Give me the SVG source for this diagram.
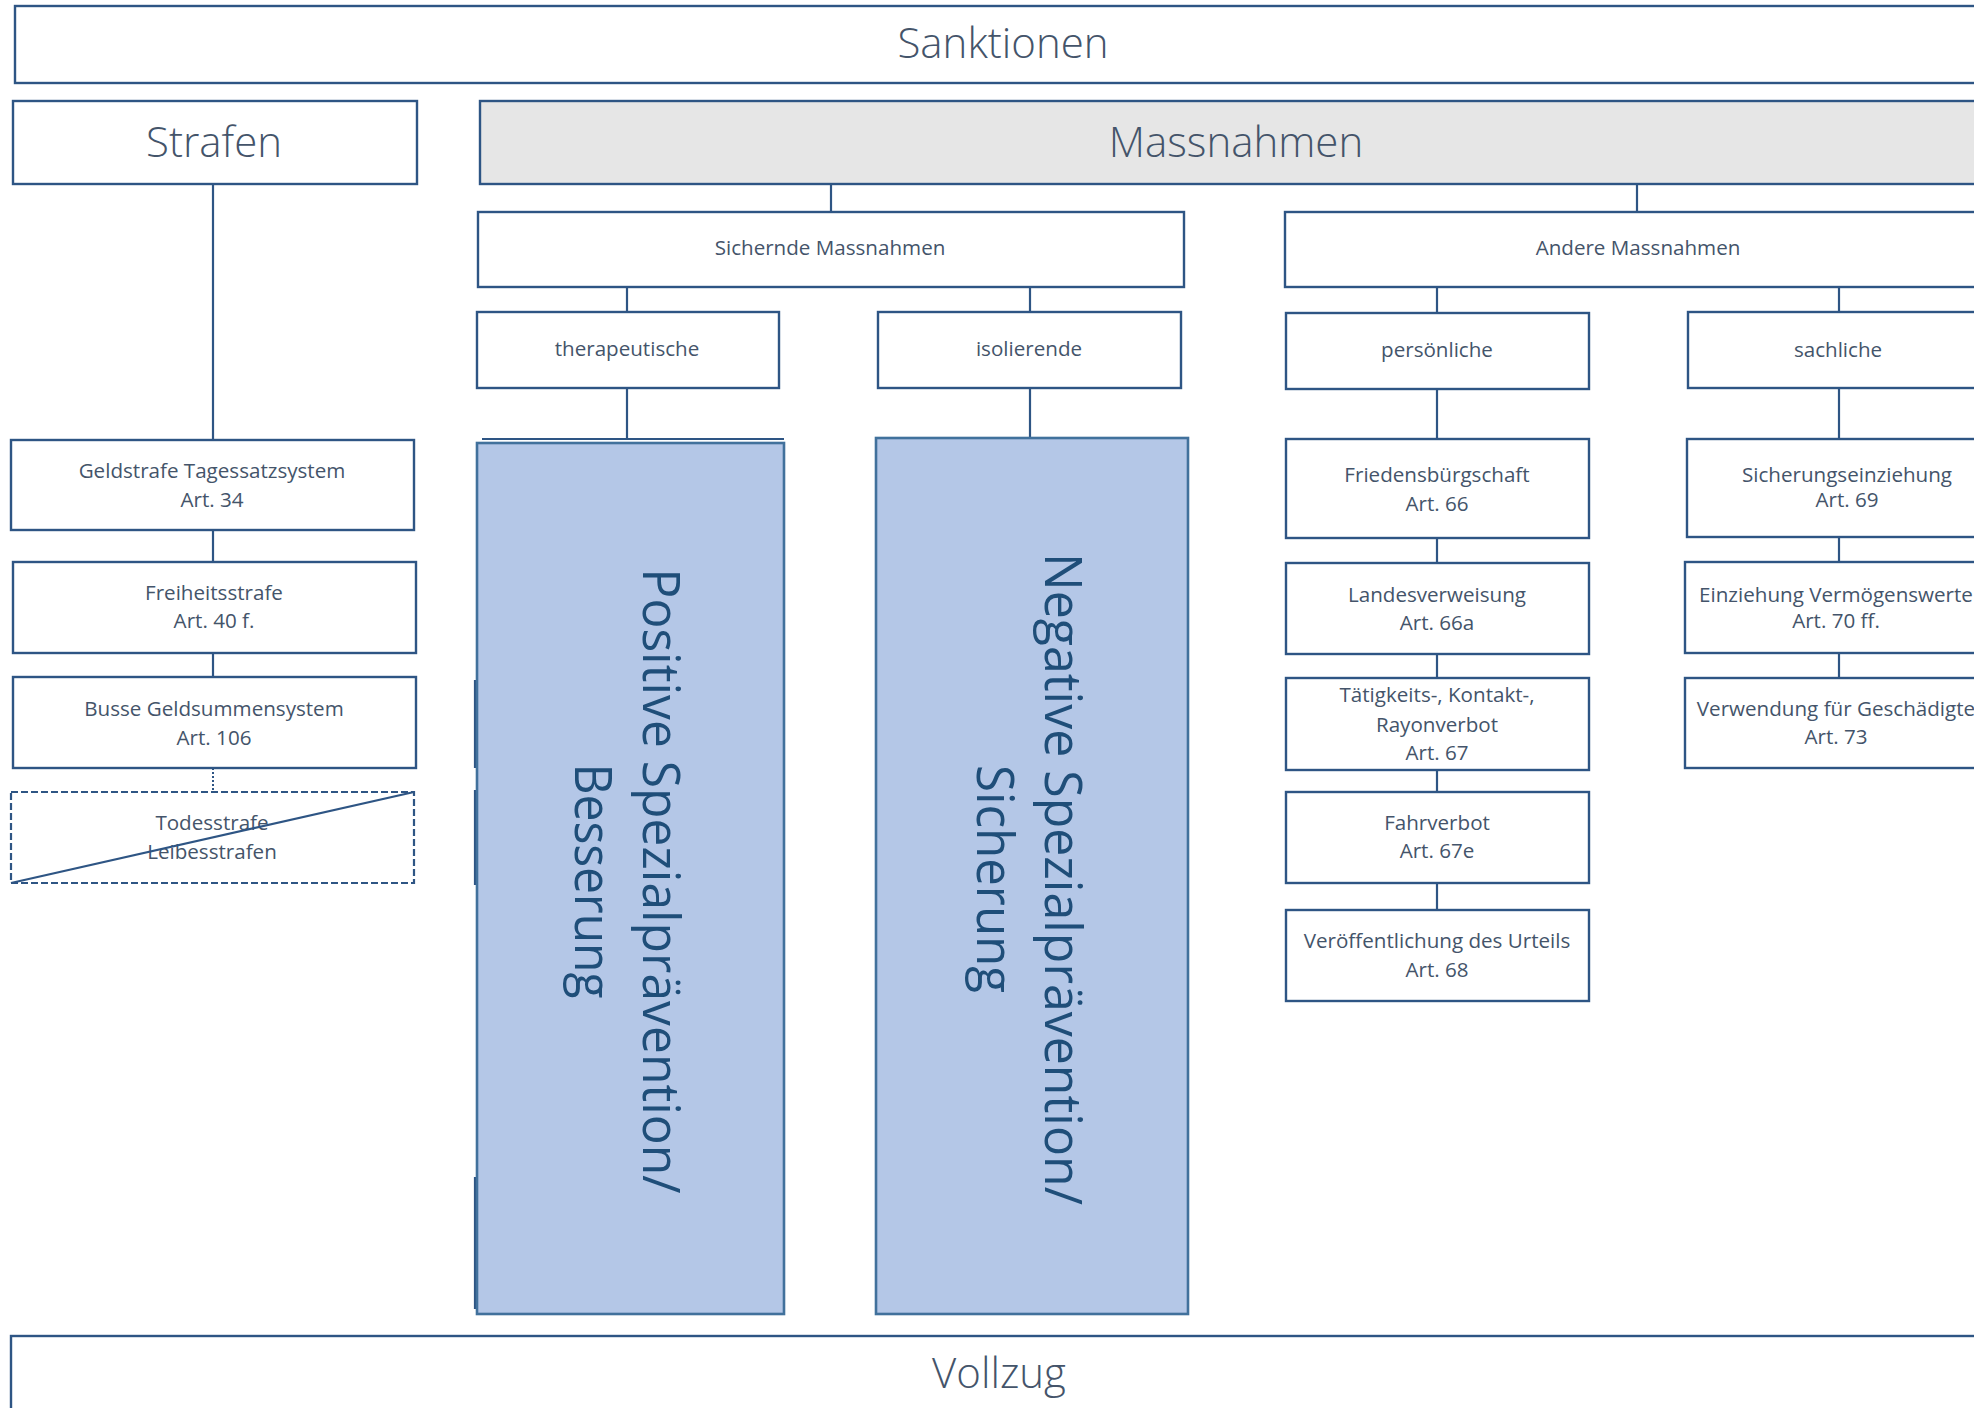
<svg xmlns="http://www.w3.org/2000/svg" width="1974" height="1408" viewBox="0 0 1974 1408">
<style>
.box{fill:#ffffff;stroke:#2E5584;stroke-width:2.4}
.gray{fill:#E6E6E6;stroke:#2E5584;stroke-width:2.4}
.blue{fill:#B4C7E7;stroke:#41719C;stroke-width:2.6}
.dash{fill:#ffffff;stroke:#2E5584;stroke-width:2.2;stroke-dasharray:7 3}
.ln{stroke:#2E5584;stroke-width:2.2;fill:none}
.dot{stroke:#2E5584;stroke-width:2;fill:none;stroke-dasharray:2 2}
text{font-family:"Open Sans","Noto Sans","DejaVu Sans",sans-serif;fill:#44546A;text-anchor:middle}
.big{font-size:42px;font-weight:300}
.sm{font-size:20.6px}
.vt{font-size:52px;fill:#1F4E79}
</style>
<rect width="1974" height="1408" fill="#ffffff"/>
<g id="connectors">
<line class="ln" x1="213" y1="184" x2="213" y2="440"/>
<line class="ln" x1="831" y1="184" x2="831" y2="212"/>
<line class="ln" x1="1637" y1="184" x2="1637" y2="212"/>
<line class="ln" x1="627" y1="287" x2="627" y2="312"/>
<line class="ln" x1="1030" y1="287" x2="1030" y2="312"/>
<line class="ln" x1="627" y1="388" x2="627" y2="440"/>
<line class="ln" x1="1030" y1="388" x2="1030" y2="438"/>
<line class="ln" x1="1437" y1="287" x2="1437" y2="313"/>
<line class="ln" x1="1839" y1="287" x2="1839" y2="312"/>
<line class="ln" x1="1437" y1="389" x2="1437" y2="439"/>
<line class="ln" x1="1437" y1="538" x2="1437" y2="563"/>
<line class="ln" x1="1437" y1="654" x2="1437" y2="678"/>
<line class="ln" x1="1437" y1="770" x2="1437" y2="792"/>
<line class="ln" x1="1437" y1="883" x2="1437" y2="910"/>
<line class="ln" x1="1839" y1="388" x2="1839" y2="439"/>
<line class="ln" x1="1839" y1="537" x2="1839" y2="562"/>
<line class="ln" x1="1839" y1="653" x2="1839" y2="678"/>
<line class="ln" x1="213" y1="530" x2="213" y2="562"/>
<line class="ln" x1="213" y1="653" x2="213" y2="677"/>
<line class="dot" x1="213" y1="768" x2="213" y2="792"/>
</g>
<g id="sanktionen"><rect class="box" x="15" y="6" width="1990" height="77"/><text class="big" x="1003" y="58">Sanktionen</text></g>
<g id="strafen"><rect class="box" x="13" y="101" width="404" height="83"/><text class="big" x="214" y="157">Strafen</text></g>
<g id="massnahmen"><rect class="gray" x="480" y="101" width="1520" height="83"/><text class="big" x="1236" y="157">Massnahmen</text></g>
<g id="sichernde"><rect class="box" x="478" y="212" width="706" height="75"/><text class="sm" x="830" y="255">Sichernde Massnahmen</text></g>
<g id="andere"><rect class="box" x="1285" y="212" width="710" height="75"/><text class="sm" x="1638" y="255">Andere Massnahmen</text></g>
<g id="therapeutische"><rect class="box" x="477" y="312" width="302" height="76"/><text class="sm" x="627" y="356">therapeutische</text></g>
<g id="isolierende"><rect class="box" x="878" y="312" width="303" height="76"/><text class="sm" x="1029" y="356">isolierende</text></g>
<g id="persoenliche"><rect class="box" x="1286" y="313" width="303" height="76"/><text class="sm" x="1437" y="357">persönliche</text></g>
<g id="sachliche"><rect class="box" x="1688" y="312" width="310" height="76"/><text class="sm" x="1838" y="357">sachliche</text></g>
<g id="geldstrafe"><rect class="box" x="11" y="440" width="403" height="90"/><text class="sm" x="212" y="478">Geldstrafe Tagessatzsystem</text><text class="sm" x="212" y="507">Art. 34</text></g>
<g id="freiheitsstrafe"><rect class="box" x="13" y="562" width="403" height="91"/><text class="sm" x="214" y="600">Freiheitsstrafe</text><text class="sm" x="214" y="628">Art. 40 f.</text></g>
<g id="busse"><rect class="box" x="13" y="677" width="403" height="91"/><text class="sm" x="214" y="716">Busse Geldsummensystem</text><text class="sm" x="214" y="745">Art. 106</text></g>
<g id="todesstrafe"><rect class="dash" x="11" y="792" width="403" height="91"/><text class="sm" x="212" y="830">Todesstrafe</text><text class="sm" x="212" y="859">Leibesstrafen</text><line class="ln" x1="11" y1="883" x2="414" y2="792" stroke-width="2.5"/></g>
<g id="positive">
<line class="ln" x1="482" y1="439" x2="784" y2="439"/>
<line class="ln" x1="475" y1="680" x2="475" y2="768" stroke-width="3"/>
<line class="ln" x1="475" y1="790" x2="475" y2="885" stroke-width="3"/>
<line class="ln" x1="475" y1="1177" x2="475" y2="1309" stroke-width="3"/>
<rect class="blue" x="477" y="443" width="307" height="871"/>
<g transform="translate(643,881) rotate(90)"><text class="vt" x="0" y="0" textLength="625" lengthAdjust="spacingAndGlyphs">Positive Spezialprävention/</text><text class="vt" x="0" y="68" textLength="235" lengthAdjust="spacingAndGlyphs">Besserung</text></g>
</g>
<g id="negative">
<rect class="blue" x="876" y="438" width="312" height="876"/>
<g transform="translate(1045,879) rotate(90)"><text class="vt" x="0" y="0" textLength="652" lengthAdjust="spacingAndGlyphs">Negative Spezialprävention/</text><text class="vt" x="0" y="68" textLength="228" lengthAdjust="spacingAndGlyphs">Sicherung</text></g>
</g>
<g id="friedensbuergschaft"><rect class="box" x="1286" y="439" width="303" height="99"/><text class="sm" x="1437" y="482">Friedensbürgschaft</text><text class="sm" x="1437" y="511">Art. 66</text></g>
<g id="landesverweisung"><rect class="box" x="1286" y="563" width="303" height="91"/><text class="sm" x="1437" y="602">Landesverweisung</text><text class="sm" x="1437" y="630">Art. 66a</text></g>
<g id="taetigkeitsverbot"><rect class="box" x="1286" y="678" width="303" height="92"/><text class="sm" x="1437" y="702">Tätigkeits-, Kontakt-,</text><text class="sm" x="1437" y="732">Rayonverbot</text><text class="sm" x="1437" y="760">Art. 67</text></g>
<g id="fahrverbot"><rect class="box" x="1286" y="792" width="303" height="91"/><text class="sm" x="1437" y="830">Fahrverbot</text><text class="sm" x="1437" y="858">Art. 67e</text></g>
<g id="veroeffentlichung"><rect class="box" x="1286" y="910" width="303" height="91"/><text class="sm" x="1437" y="948">Veröffentlichung des Urteils</text><text class="sm" x="1437" y="977">Art. 68</text></g>
<g id="sicherungseinziehung"><rect class="box" x="1687" y="439" width="320" height="98"/><text class="sm" x="1847" y="482">Sicherungseinziehung</text><text class="sm" x="1847" y="507">Art. 69</text></g>
<g id="einziehung"><rect class="box" x="1685" y="562" width="320" height="91"/><text class="sm" x="1836" y="602">Einziehung Vermögenswerte</text><text class="sm" x="1836" y="628">Art. 70 ff.</text></g>
<g id="verwendung"><rect class="box" x="1685" y="678" width="320" height="90"/><text class="sm" x="1836" y="716">Verwendung für Geschädigte</text><text class="sm" x="1836" y="744">Art. 73</text></g>
<g id="vollzug"><rect class="box" x="11" y="1336" width="1990" height="100"/><text class="big" x="999" y="1388">Vollzug</text></g>
</svg>
